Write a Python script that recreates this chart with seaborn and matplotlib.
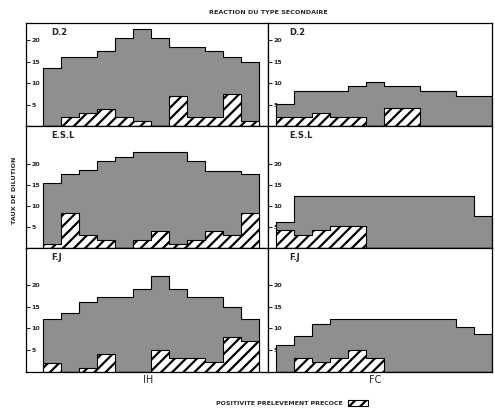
import numpy as np
import pandas as pd
import matplotlib.pyplot as plt
from matplotlib.patches import Patch
import seaborn as sns

# 12 periodes (une par colonne du diagramme)
mois = np.arange(12)

# colonne IH
ih_d2_total = [13.5, 16, 16, 17.5, 20.5, 22.5, 20.5, 18.5, 18.5, 17.5, 16, 15]
ih_d2_pos = [0, 2, 3, 4, 2, 1.2, 0, 7, 2, 2, 7.5, 1.2]
ih_esl_total = [15.5, 17.5, 18.5, 20.7, 21.7, 22.9, 22.9, 22.9, 20.7, 18.3, 18.3, 17.5]
ih_esl_pos = [1, 8.3, 3, 2, 0, 2, 4, 1, 2, 4, 3, 8.3]
ih_fj_total = [12.2, 13.4, 16, 17.2, 17.2, 19.1, 22.1, 19.1, 17.2, 17.2, 14.9, 12.1]
ih_fj_pos = [2.1, 0, 1, 4.2, 0, 0, 5, 3.2, 3.2, 2.4, 8, 7.1]

# colonne FC
fc_d2_total = [5.2, 8.1, 8.1, 8.1, 9.3, 10.2, 9.3, 9.3, 8.1, 8.1, 7.1, 7.1]
fc_d2_pos = [2, 2, 3.1, 2, 2, 0, 4.1, 4.1, 0, 0, 0, 0]
fc_esl_total = [6.2, 12.4, 12.4, 12.4, 12.4, 12.4, 12.4, 12.4, 12.4, 12.4, 12.4, 7.6]
fc_esl_pos = [4.2, 3.2, 4.2, 5.2, 5.2, 0, 0, 0, 0, 0, 0, 0]
fc_fj_total = [6.1, 8.2, 11.1, 12.1, 12.1, 12.1, 12.1, 12.1, 12.1, 12.1, 10.3, 8.6]
fc_fj_pos = [0, 3.2, 2.2, 3.2, 5.1, 3.2, 0, 0, 0, 0, 0, 0]

sujets = ["D.2", "E.S.L", "F.J"]
yticks = [5, 10, 15, 20]

sns.set_theme(style="white")
plt.rcParams['font.family'] = ['DejaVu Sans']
plt.rcParams['hatch.linewidth'] = 1.6

W, H = 495, 412
fig = plt.figure(figsize=(W / 100, H / 100), dpi=100)


def px_axes(x0, y0, x1, y1):
    return fig.add_axes([x0 / W, 1 - y1 / H, (x1 - x0) / W, (y1 - y0) / H])


def marches(ax, valeurs, face, hatch=None):
    df = pd.DataFrame({"mois": mois, "taux": valeurs})
    sns.histplot(data=df, x="mois", weights="taux", discrete=True,
                 element="step", fill=True,
                 facecolor=face, edgecolor="black", linewidth=0.8, hatch=hatch,
                 alpha=1, ax=ax)


lignes = [(23, 126, 24), (126, 248, 29), (248, 372, 28.4)]
colonnes = [(26, 268, (-1.444, 12.0), [ih_d2_total, ih_esl_total, ih_fj_total],
             [ih_d2_pos, ih_esl_pos, ih_fj_pos]),
            (268, 492, (-0.944, 11.5), [fc_d2_total, fc_esl_total, fc_fj_total],
             [fc_d2_pos, fc_esl_pos, fc_fj_pos])]

for x0, x1, xlim, totaux, positifs in colonnes:
    for (y0, y1, ymax), nom, tot, pos in zip(lignes, sujets, totaux, positifs):
        ax = px_axes(x0, y0, x1, y1)
        marches(ax, tot, "#8f8f8f")
        marches(ax, pos, "white", "///")
        ax.set_xlim(*xlim)
        ax.set_ylim(0, ymax)
        ax.set_xticks([])
        ax.set_yticks(yticks)
        ax.set_yticklabels([str(t) for t in yticks])
        ax.tick_params(axis="y", direction="in", length=3, width=0.8, pad=-4,
                       labelsize=4.5, left=True)
        for lab in ax.get_yticklabels():
            lab.set_ha("left")
            lab.set_fontweight("bold")
        ax.set(xlabel="", ylabel="")
        for sp in ax.spines.values():
            sp.set_visible(True)
            sp.set_color("black")
            sp.set_linewidth(0.9)
        ax.annotate(nom, xy=(0, 1), xycoords="axes fraction",
                    xytext=(18 if x0 < 100 else 15, -6.5), textcoords="offset points",
                    ha="left", va="center", fontsize=6, fontweight="bold")

fig.text(268 / W, 1 - 12 / H, "REACTION DU TYPE SECONDAIRE", ha="center", va="center",
         fontsize=4.6, fontweight="bold")
fig.text(14.5 / W, 1 - 190 / H, "TAUX DE DILUTION", rotation=90, ha="center",
         va="center", fontsize=4.6, fontweight="bold")
fig.text(148 / W, 1 - 380 / H, "IH", ha="center", va="center", fontsize=7)
fig.text(375 / W, 1 - 380 / H, "FC", ha="center", va="center", fontsize=7)

poignee = Patch(facecolor="white", edgecolor="black", hatch="///", linewidth=0.8)
fig.legend(handles=[poignee], labels=["POSITIVITE PRELEVEMENT PRECOCE"],
           markerfirst=False, frameon=False, loc="center",
           bbox_to_anchor=(292 / W, 1 - 403 / H),
           handlelength=3.2, handleheight=1.0, handletextpad=0.9,
           prop={"weight": "bold", "size": 4.5})

fig.savefig("out.png", dpi=100)
